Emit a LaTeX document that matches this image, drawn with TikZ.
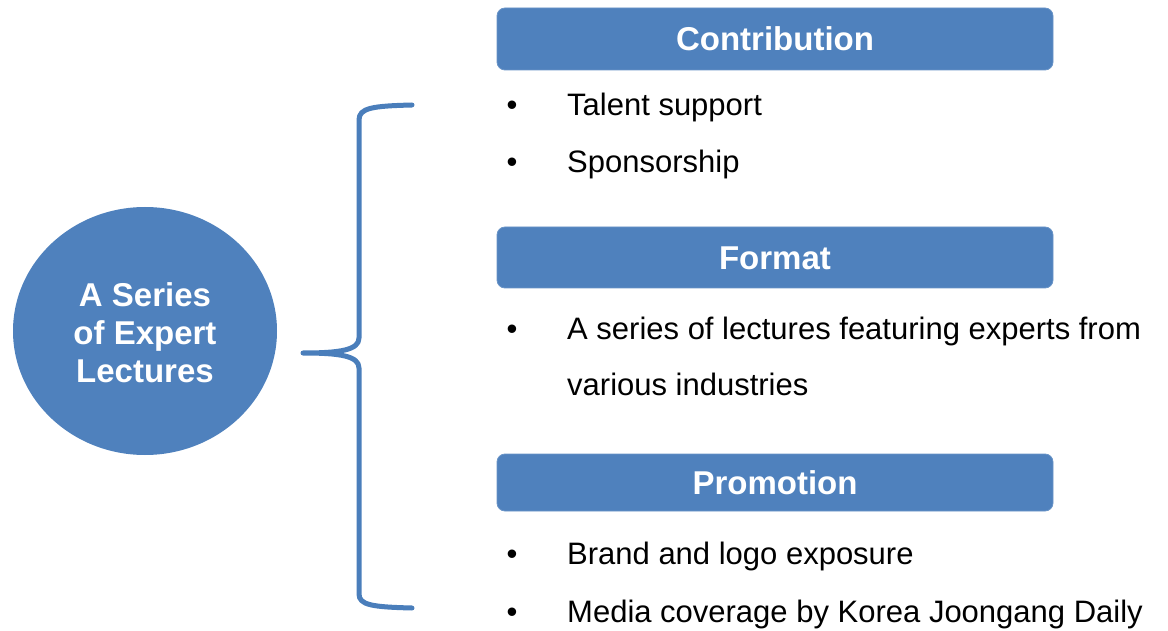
\documentclass[tikz,border=0pt]{standalone}
\usepackage{fontspec}
\setmainfont{Liberation Sans}
\usepackage{xcolor}
\usepackage{tikz}
\usetikzlibrary{shapes.geometric}

\definecolor{boxblue}{HTML}{4F81BD}
\definecolor{bracec}{HTML}{4A7EBB}

\begin{document}
\begin{tikzpicture}[x=1pt, y=-1pt,
    every node/.style={inner sep=0pt},
    headbox/.style={rectangle, rounded corners=8pt, fill=boxblue, draw=boxblue!85!white, line width=0.8pt,
        minimum width=556pt, text=white, font=\fontsize{33}{38}\selectfont\bfseries,
        text height=24pt, text depth=0pt},
    item/.style={anchor=base west, font=\fontsize{31}{38}\selectfont},
    dot/.style={anchor=base, font=\fontsize{31}{38}\selectfont}]

        \useasboundingbox (0,0) rectangle (1168,631);

        % 1. TOPIC (left ellipse)
        \node[ellipse, fill=boxblue, minimum width=264pt, minimum height=248pt] (topic) at (145,331) {};
        \node[text=white, font=\fontsize{33}{38}\selectfont\bfseries, align=center] (topiclbl) at (145,333)
            {A Series\\of Expert\\Lectures};

        % 2. BRACE joining the topic to the three blocks
        \coordinate (btop) at (412,105);
        \coordinate (btip) at (303,353);
        \coordinate (bbot) at (412,608);
        \draw[bracec, line width=5pt, line cap=round, line join=round]
            (btop) .. controls (372,106) and (359,108) .. (359,120) -- (359,338)
            .. controls (359,350) and (340,353) .. (btip)
            .. controls (340,353) and (359,356) .. (359,368) -- (359,594)
            .. controls (359,605) and (372,607) .. (bbot);

        % 3. CONTRIBUTION block
        \node[headbox, minimum height=62pt] (contrib) at (775,39) {Contribution};
        \node[dot] (d1) at (512,116) {•};
        \node[item] (talent) at (567,116) {Talent support};
        \node[dot] (d2) at (512,173) {•};
        \node[item] (sponsor) at (567,173) {Sponsorship};

        % 4. FORMAT block (one item wrapped over two lines)
        \node[headbox, minimum height=61pt] (format) at (775,257.5) {Format};
        \node[dot] (d3) at (512,339) {•};
        \node[item] (lectures) at (567,339) {A series of lectures featuring experts from};
        \node[item] (industries) at (567,395) {various industries};

        % 5. PROMOTION block
        \node[headbox, minimum height=57pt] (promo) at (775,482.5) {Promotion};
        \node[dot] (d4) at (512,564) {•};
        \node[item] (brand) at (567,564) {Brand and logo exposure};
        \node[dot] (d5) at (512,622) {•};
        \node[item] (media) at (567,622) {Media coverage by Korea Joongang Daily};

    \end{tikzpicture}
\end{document}
